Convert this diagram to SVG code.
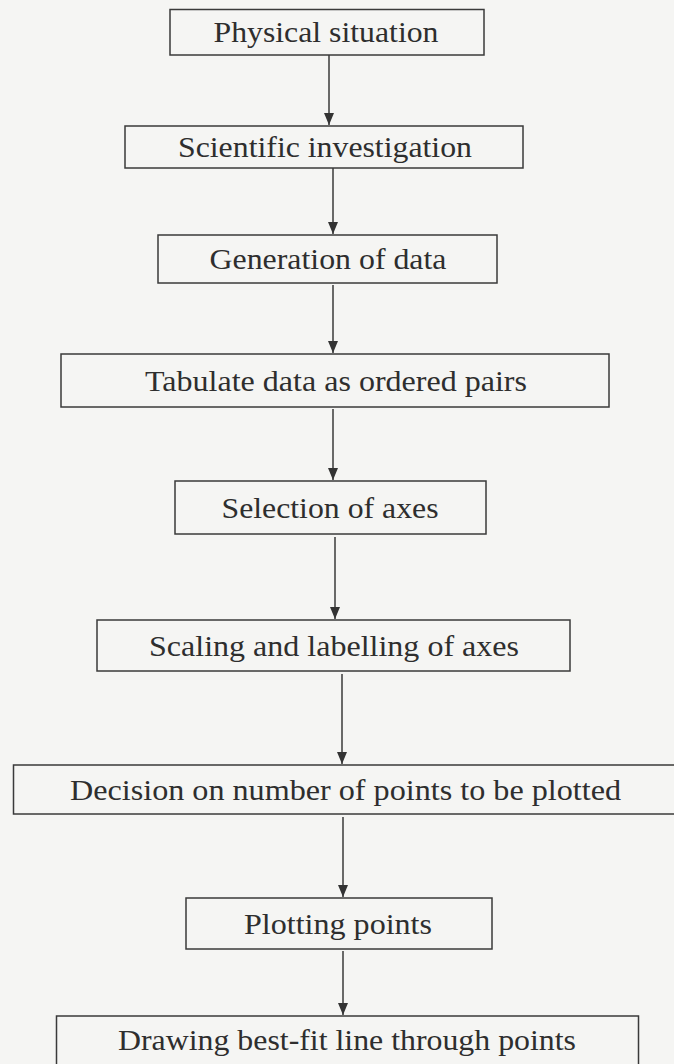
<svg xmlns="http://www.w3.org/2000/svg" width="674" height="1064" viewBox="0 0 674 1064">
  <style>
    .box { fill: none; stroke: #3a3a3a; stroke-width: 1.5; }
    .lbl { font-family: "Liberation Serif", "Times New Roman", serif; font-size: 30px; fill: #2e2e2e; text-anchor: middle; }
    .edge { stroke: #3a3a3a; stroke-width: 1.5; fill: none; marker-end: url(#arrow); }
  </style>
  <defs>
    <marker id="arrow" markerUnits="userSpaceOnUse" markerWidth="10" markerHeight="12" refX="5" refY="12" orient="0" viewBox="0 0 10 12">
      <path d="M0,0 L10,0 L5,12 Z" fill="#333"/>
    </marker>
  </defs>
  <rect x="0" y="0" width="674" height="1064" fill="#f5f5f3"/>

  <g id="connectors">
    <path class="edge" d="M329,55 V125"/>
    <path class="edge" d="M333,168 V234"/>
    <path class="edge" d="M333,285 V353"/>
    <path class="edge" d="M333,409 V480"/>
    <path class="edge" d="M335,537 V619"/>
    <path class="edge" d="M342,674 V764"/>
    <path class="edge" d="M343,817 V897"/>
    <path class="edge" d="M343,951 V1015"/>
  </g>

  <g id="n1">
    <rect class="box" x="170" y="9.5" width="314" height="45.5"/>
    <text class="lbl" x="326" y="42" textLength="225" lengthAdjust="spacingAndGlyphs">Physical situation</text>
  </g>
  <g id="n2">
    <rect class="box" x="125" y="126" width="398" height="42"/>
    <text class="lbl" x="325" y="157" textLength="294" lengthAdjust="spacingAndGlyphs">Scientific investigation</text>
  </g>
  <g id="n3">
    <rect class="box" x="158" y="235" width="339" height="48"/>
    <text class="lbl" x="328" y="269" textLength="237" lengthAdjust="spacingAndGlyphs">Generation of data</text>
  </g>
  <g id="n4">
    <rect class="box" x="61" y="354" width="548" height="53"/>
    <text class="lbl" x="336" y="391" textLength="382" lengthAdjust="spacingAndGlyphs">Tabulate data as ordered pairs</text>
  </g>
  <g id="n5">
    <rect class="box" x="175" y="481" width="311" height="53"/>
    <text class="lbl" x="330" y="518" textLength="217" lengthAdjust="spacingAndGlyphs">Selection of axes</text>
  </g>
  <g id="n6">
    <rect class="box" x="97" y="620" width="473" height="51"/>
    <text class="lbl" x="334" y="656" textLength="370" lengthAdjust="spacingAndGlyphs">Scaling and labelling of axes</text>
  </g>
  <g id="n7">
    <rect class="box" x="13.5" y="765" width="672" height="49"/>
    <text class="lbl" x="345.5" y="800" textLength="551" lengthAdjust="spacingAndGlyphs">Decision on number of points to be plotted</text>
  </g>
  <g id="n8">
    <rect class="box" x="186" y="898" width="306" height="51"/>
    <text class="lbl" x="338" y="934" textLength="188" lengthAdjust="spacingAndGlyphs">Plotting points</text>
  </g>
  <g id="n9">
    <rect class="box" x="56.5" y="1016" width="582" height="60"/>
    <text class="lbl" x="347" y="1050" textLength="458" lengthAdjust="spacingAndGlyphs">Drawing best-fit line through points</text>
  </g>
</svg>
